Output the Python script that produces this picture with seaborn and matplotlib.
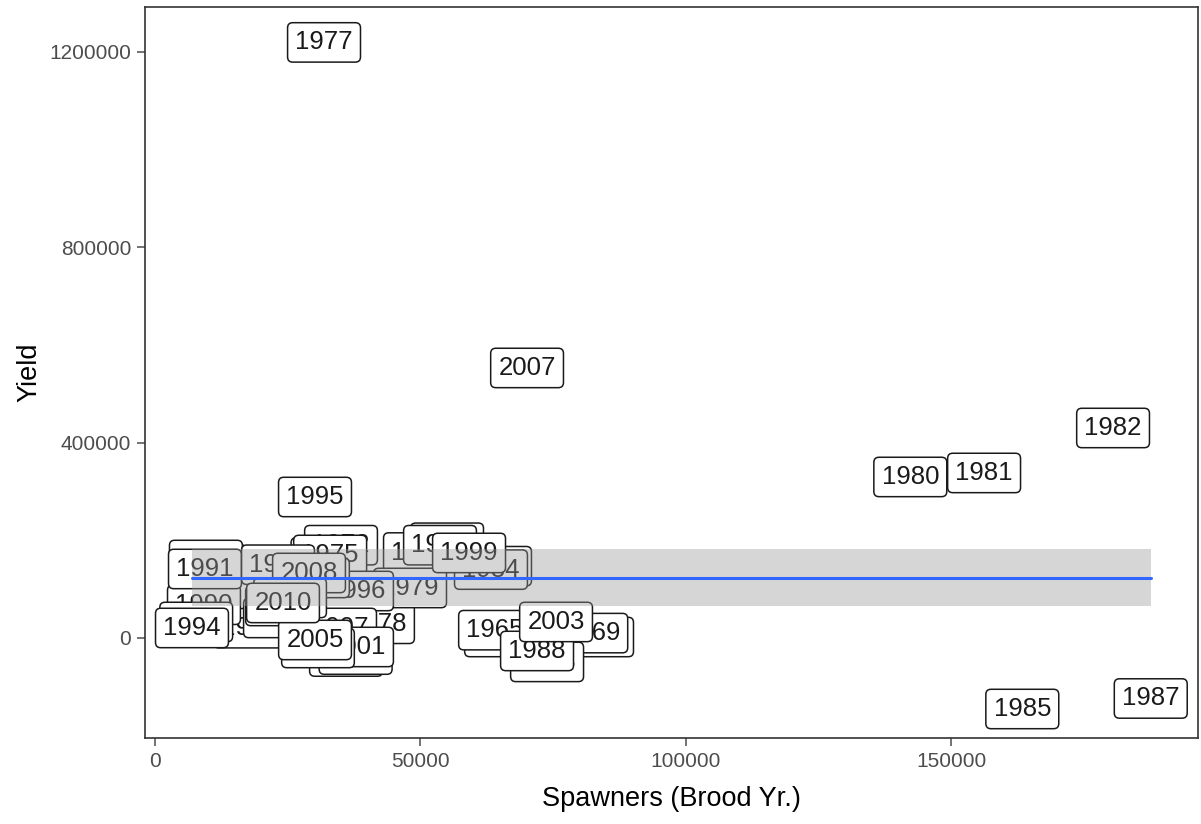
import numpy as np
import pandas as pd
import matplotlib
matplotlib.use("Agg")
import matplotlib.pyplot as plt
import seaborn as sns

# Brood-year spawners and yield, one row per brood year (1961-2010)
years = list(range(1961, 2011))
spawners = [65200, 30000, 64070, 32500, 64070, 27320, 83290, 26950, 82200, 9900,
            36000, 35050, 49930, 55020, 33000, 53700, 31850, 42000, 48050, 142300,
            156200, 180500, 73870, 63300, 163400, 17900, 187600, 71980, 9600, 9230,
            9420, 7770, 23180, 6970, 30150, 38060, 34860, 37800, 59170, 23550,
            38060, 30710, 75560, 23930, 30150, 29770, 70100, 29020, 25440, 24120]
yield_ = [2000, 138000, 147000, 165000, 16000, 145000, 2000, 53000, 10000, 153600,
          -38000, 190000, 175000, 195000, 170000, 190000, 1219500, 29000, 102400, 329700,
          337900, 430000, -49000, 140000, -145400, 20000, -123900, -26600, 159700, 68000,
          141300, 32800, 150000, 20500, 288700, 96200, 20500, -34000, 174100, 41000,
          -18400, -20500, 32800, 65500, -4100, 122900, 552900, 133100, 82000, 71700]

df = pd.DataFrame({"year": years, "spawners": spawners, "yield": yield_})

sns.set_style("ticks")
plt.rcParams["font.family"] = ["Liberation Sans", "DejaVu Sans"]

fig = plt.figure(figsize=(12.01, 8.24), dpi=100)
ax = fig.add_axes([145 / 1201, 1 - 738 / 824, (1198 - 145) / 1201, (738 - 7) / 824])

# Year labels at each (spawners, yield) point, drawn in year order
for _, r in df.iterrows():
    ax.text(r["spawners"], r["yield"], str(int(r["year"])), fontsize=18.5,
            ha="center", va="center", color="#1a1a1a", zorder=3,
            bbox=dict(boxstyle="round,pad=0.3,rounding_size=0.2", fc="white",
                      ec="#1a1a1a", lw=1.1))

# Intercept-only linear fit (y ~ 1) with 95% confidence band
n = len(df)
mean = df["yield"].mean()
se = df["yield"].std(ddof=1) / np.sqrt(n)
tcrit = 2.0096  # t quantile, 0.975, df = n - 1
xs = np.array([df["spawners"].min(), df["spawners"].max()])
fit = pd.DataFrame({"spawners": xs, "yield": [mean, mean]})
ax.fill_between(xs, mean - tcrit * se, mean + tcrit * se, color="#999999",
                alpha=0.4, lw=0, zorder=4)
sns.lineplot(data=fit, x="spawners", y="yield", ax=ax, color="#3366FF",
             lw=2.2, zorder=5)

ax.set_xlim(-1880, 196500)
ax.set_ylim(-204800, 1292000)
ax.set_xticks([0, 50000, 100000, 150000])
ax.set_yticks([0, 400000, 800000, 1200000])
ax.set_xticklabels(["0", "50000", "100000", "150000"])
ax.set_yticklabels(["0", "400000", "800000", "1200000"])
ax.tick_params(axis="both", labelsize=15, colors="#4D4D4D", length=6, width=1.1,
               direction="out", pad=4)
for s in ax.spines.values():
    s.set_visible(True)
    s.set_color("#333333")
    s.set_linewidth(1.2)

ax.set_xlabel("Spawners (Brood Yr.)", fontsize=19.5, color="black", labelpad=11)
ax.set_ylabel("Yield", fontsize=19.5, color="black", labelpad=5)

fig.savefig("out.png", dpi=100)
